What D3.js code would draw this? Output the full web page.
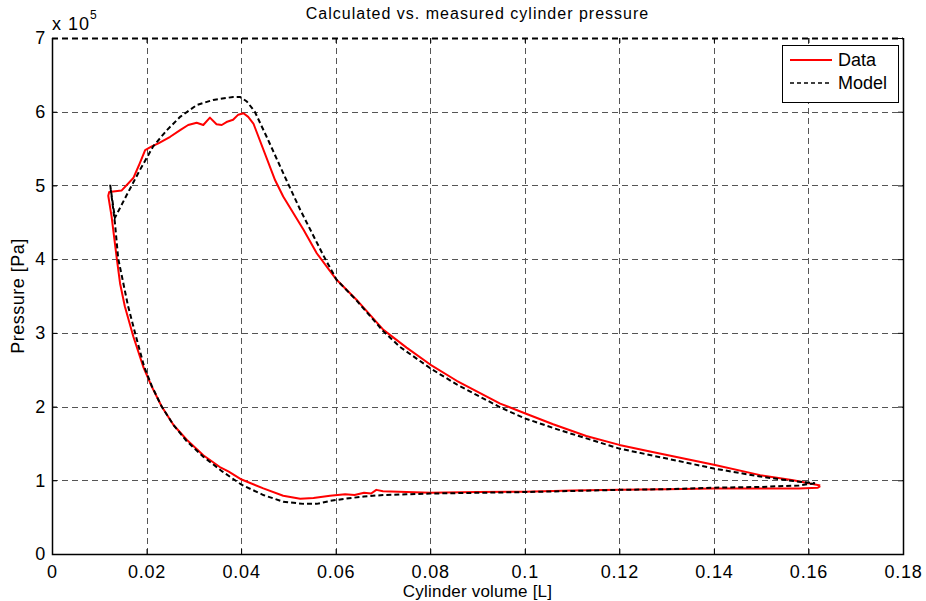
<!DOCTYPE html>
<html>
<head>
<meta charset="utf-8">
<script src="https://cdn.jsdelivr.net/npm/d3@7"></script>
<style>
  body { margin: 0; background: #fff; }
  svg { display: block; font-family: "Liberation Sans", Arial, sans-serif; }
</style>
</head>
<body>
<svg id="chart" width="926" height="601"></svg>
<script>
// measured cycle (volume in L, pressure in 1e5 Pa), starts at BDC, compression first
const dataV = [0.1625, 0.162, 0.158, 0.15, 0.14, 0.13, 0.12, 0.11, 0.10, 0.09, 0.08, 0.075, 0.070, 0.0686, 0.0675, 0.066, 0.064, 0.062, 0.0588, 0.0553, 0.0525, 0.0489, 0.0447, 0.0401, 0.0373, 0.0355, 0.032, 0.0285, 0.0257, 0.0232, 0.0211, 0.0193, 0.0172, 0.0154, 0.0144, 0.0137, 0.0126, 0.0119,
  0.0121, 0.0147, 0.0172, 0.0183, 0.0197, 0.0211, 0.0225, 0.025, 0.0271, 0.0288, 0.0306, 0.032, 0.0334, 0.0348, 0.0359, 0.0369, 0.0383, 0.0394, 0.0405, 0.0415, 0.0426,
  0.0472, 0.0489, 0.0532, 0.056, 0.0602, 0.0644, 0.0701, 0.075, 0.08, 0.0856, 0.0948, 0.10, 0.106, 0.113, 0.120, 0.1265, 0.140, 0.1498, 0.1568, 0.1625];
const dataP = [0.92, 0.90, 0.89, 0.89, 0.89, 0.88, 0.87, 0.86, 0.845, 0.84, 0.83, 0.84, 0.85, 0.87, 0.82, 0.83, 0.80, 0.81, 0.79, 0.76, 0.75, 0.79, 0.89, 1.01, 1.12, 1.18, 1.34, 1.55, 1.75, 2.0, 2.27, 2.54, 2.95, 3.36, 3.67, 4.01, 4.58, 4.86,
  4.91, 4.93, 5.10, 5.26, 5.48, 5.53, 5.57, 5.66, 5.75, 5.82, 5.85, 5.82, 5.92, 5.83, 5.82, 5.86, 5.89, 5.96, 5.98, 5.93, 5.84,
  5.07, 4.85, 4.40, 4.08, 3.72, 3.45, 3.04, 2.80, 2.57, 2.35, 2.04, 1.91, 1.76, 1.60, 1.48, 1.39, 1.21, 1.07, 1.00, 0.93];

// model cycle
const modelV = [0.1614, 0.158, 0.15, 0.14, 0.13, 0.12, 0.11, 0.10, 0.09, 0.08, 0.075, 0.07, 0.066, 0.062, 0.0588, 0.056, 0.0532, 0.0489, 0.0447, 0.0401, 0.036, 0.032, 0.0285, 0.0257, 0.0232, 0.0211, 0.0195, 0.0176, 0.0161, 0.0151, 0.014, 0.0133, 0.0123,
  0.0133, 0.0158, 0.0186, 0.0214, 0.0243, 0.0271, 0.0306, 0.0341, 0.0383, 0.0398, 0.0412, 0.0429, 0.0454, 0.0496, 0.0525, 0.0574, 0.0602, 0.0644, 0.0701, 0.0736, 0.08, 0.0856, 0.0948, 0.10, 0.1074, 0.120, 0.140, 0.1498, 0.1568, 0.1614];
const modelP = [0.96, 0.93, 0.91, 0.90, 0.88, 0.87, 0.855, 0.84, 0.83, 0.82, 0.81, 0.80, 0.78, 0.75, 0.72, 0.68, 0.68, 0.71, 0.80, 0.94, 1.12, 1.32, 1.53, 1.75, 2.0, 2.28, 2.54, 2.99, 3.36, 3.67, 4.01, 4.5, 5.01,
  4.56, 4.87, 5.21, 5.53, 5.75, 5.93, 6.09, 6.16, 6.20, 6.20, 6.14, 6.00, 5.66, 5.07, 4.67, 4.05, 3.72, 3.44, 3.02, 2.81, 2.52, 2.30, 1.99, 1.84, 1.68, 1.43, 1.16, 1.05, 0.99, 0.96];

const xTicks = [0, 0.02, 0.04, 0.06, 0.08, 0.1, 0.12, 0.14, 0.16, 0.18];
const yTicks = [0, 1, 2, 3, 4, 5, 6, 7];
const seriesNames = ["Data", "Model"];

const svg = d3.select("#chart");
const L = 52, R = 903, T = 38, B = 554;
const x = d3.scaleLinear().domain([0, 0.18]).range([L, R]);
const y = d3.scaleLinear().domain([0, 7]).range([B, T]);

// grid
const grid = svg.append("g").attr("stroke", "#555").attr("stroke-width", 1).attr("stroke-dasharray", "6,4");
grid.selectAll(".gx").data(xTicks.slice(1, -1)).enter().append("line")
  .attr("x1", (d) => Math.round(x(d)) + 0.5).attr("x2", (d) => Math.round(x(d)) + 0.5)
  .attr("y1", T).attr("y2", B);
grid.selectAll(".gy").data(yTicks.slice(1, -1)).enter().append("line")
  .attr("y1", (d) => Math.round(y(d)) + 0.5).attr("y2", (d) => Math.round(y(d)) + 0.5)
  .attr("x1", L).attr("x2", R);

// axes (MATLAB style: ticks inward on all four sides)
const fmt = (d) => String(d);
const gx = svg.append("g").attr("transform", `translate(0,${B})`)
  .call(d3.axisBottom(x).tickValues(xTicks).tickSize(-5).tickPadding(11).tickFormat(fmt));
const gy = svg.append("g").attr("transform", `translate(${L},0)`)
  .call(d3.axisLeft(y).tickValues(yTicks).tickSize(-5).tickPadding(6).tickFormat(fmt));
const gxt = svg.append("g").attr("transform", `translate(0,${T})`)
  .call(d3.axisTop(x).tickValues(xTicks).tickSize(-5).tickFormat(""));
const gyr = svg.append("g").attr("transform", `translate(${R},0)`)
  .call(d3.axisRight(y).tickValues(yTicks).tickSize(-5).tickFormat(""));
[gx, gy, gxt, gyr].forEach((g) => {
  g.select(".domain").remove();
  g.selectAll("line").attr("stroke", "#000");
  g.selectAll("text").attr("font-size", 18).attr("letter-spacing", 0.8).attr("fill", "#000")
    .attr("font-family", "Liberation Sans, Arial, sans-serif");
});
// box: solid left/bottom/right, top edge rendered dashed like the reference
svg.append("path").attr("d", `M${L + 0.5},${T}V${B + 0.5}H${R + 0.5}V${T}`)
  .attr("fill", "none").attr("stroke", "#000").attr("stroke-width", 1.5);
svg.append("line").attr("x1", L).attr("x2", R).attr("y1", T + 0.5).attr("y2", T + 0.5)
  .attr("stroke", "#000").attr("stroke-width", 2).attr("stroke-dasharray", "6,4");

// curves
const line = d3.line().x((d) => x(d[0])).y((d) => y(d[1]));
svg.append("path").datum(dataV.map((v, i) => [v, dataP[i]]))
  .attr("d", line).attr("fill", "none").attr("stroke", "#f00").attr("stroke-width", 2).attr("stroke-linejoin", "round");
svg.append("path").datum(modelV.map((v, i) => [v, modelP[i]]))
  .attr("d", line).attr("fill", "none").attr("stroke", "#000").attr("stroke-width", 2).attr("stroke-dasharray", "5,3");

// exponent label
const ex = svg.append("text").attr("x", 52).attr("y", 30).attr("font-size", 18).attr("letter-spacing", 1);
ex.append("tspan").text("x 10");
ex.append("tspan").attr("font-size", 12).attr("dy", -11).text("5");

// title and axis labels
svg.append("text").attr("x", (L + R) / 2).attr("y", 19).attr("text-anchor", "middle")
  .attr("font-size", 16).attr("letter-spacing", 1).text("Calculated vs. measured cylinder pressure");
svg.append("text").attr("x", (L + R) / 2).attr("y", 597).attr("text-anchor", "middle")
  .attr("font-size", 17).attr("letter-spacing", 0.2).text("Cylinder volume [L]");
svg.append("text").attr("transform", `translate(24,${(T + B) / 2}) rotate(-90)`).attr("text-anchor", "middle")
  .attr("font-size", 18).attr("letter-spacing", 0.5).text("Pressure [Pa]");

// legend
const lg = svg.append("g");
lg.append("rect").attr("x", 782.5).attr("y", 45.5).attr("width", 116).attr("height", 57).attr("fill", "#fff").attr("stroke", "#000");
seriesNames.forEach((name, i) => {
  const yy = 60 + i * 23;
  lg.append("line").attr("x1", 790).attr("x2", 832).attr("y1", yy).attr("y2", yy)
    .attr("stroke", i ? "#000" : "#f00").attr("stroke-width", i ? 1.5 : 2).attr("stroke-dasharray", i ? "4,3" : null);
  lg.append("text").attr("x", 838).attr("y", yy + 6).attr("font-size", 18).text(name);
});
</script>
</body>
</html>
